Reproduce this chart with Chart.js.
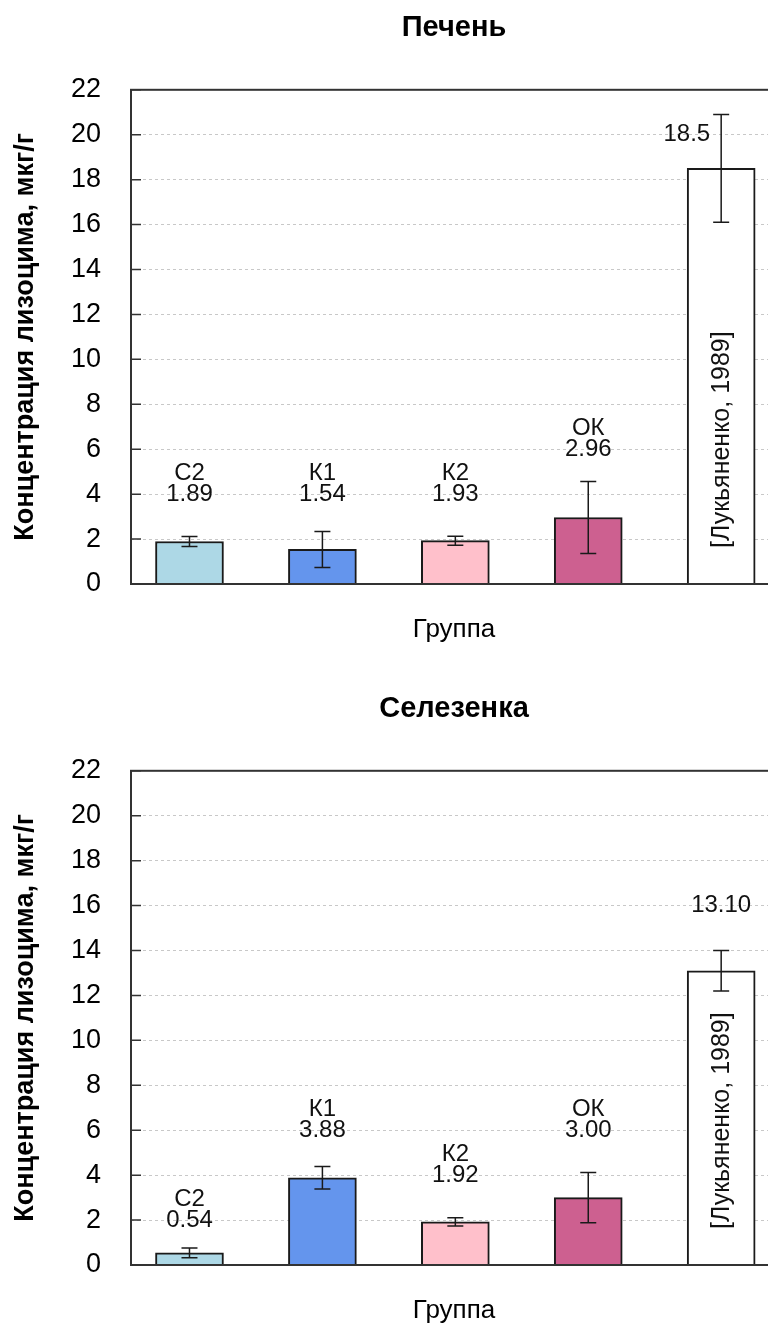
<!DOCTYPE html>
<html lang="ru">
<head>
<meta charset="utf-8">
<title>Лизоцим</title>
<script src="https://cdn.jsdelivr.net/npm/chart.js@4.4.1/dist/chart.umd.min.js"></script>
<style>
html, body { margin: 0; padding: 0; background: #fff; overflow: hidden; }
.box { position: relative; width: 800px; height: 681px; }
</style>
</head>
<body>
<div class="box"><canvas id="pechen"></canvas></div>
<div class="box"><canvas id="selezenka"></canvas></div>
<script>
// группы и цвета
const gruppy = ['С2', 'К1', 'К2', 'ОК', ''];
const cveta = ['#add8e6', '#6495ed', '#ffc0cb', '#cd6090', '#ffffff'];
const istochnik = ['', '', '', '', '[Лукьяненко, 1989]'];

// печень
const pechen = [1.89, 1.54, 1.93, 2.96, 18.5];
const pechenOsh = [0.22, 0.8, 0.2, 1.6, 2.4];
const pechenTxt = ['1.89', '1.54', '1.93', '2.96', '18.5'];

// селезенка
const selezenka = [0.54, 3.88, 1.92, 3.00, 13.10];
const selezenkaOsh = [0.22, 0.5, 0.18, 1.12, 0.9];
const selezenkaTxt = ['0.54', '3.88', '1.92', '3.00', '13.10'];

const yTicks = [0, 2, 4, 6, 8, 10, 12, 14, 16, 18, 20, 22];

const FONT = "'Liberation Sans', Arial, sans-serif";

const dopolnenie = {
    id: 'dopolnenie',
    afterDatasetsDraw(chart, args, opts) {
        const {ctx, chartArea: a, scales: {y}} = chart;
        const meta = chart.getDatasetMeta(0);
        ctx.save();

        // усы ошибок
        ctx.strokeStyle = '#1a1a1a';
        ctx.lineWidth = 1.5;
        meta.data.forEach((bar, i) => {
            const v = opts.znach[i], e = opts.osh[i];
            const t = y.getPixelForValue(v + e), b = y.getPixelForValue(v - e);
            ctx.beginPath();
            ctx.moveTo(bar.x, t); ctx.lineTo(bar.x, b);
            ctx.moveTo(bar.x - 8, t); ctx.lineTo(bar.x + 8, t);
            ctx.moveTo(bar.x - 8, b); ctx.lineTo(bar.x + 8, b);
            ctx.stroke();
        });

        // подписи над столбцами
        ctx.font = '24px ' + FONT;
        ctx.fillStyle = '#111';
        ctx.textBaseline = 'middle';
        meta.data.forEach((bar, i) => {
            const v = opts.znach[i], e = opts.osh[i];
            let lvl = (Math.floor((v + e) / 2) + 1) * 2;
            if (lvl > y.max - 2) {
                lvl = y.max - 2;
                ctx.textAlign = 'right';
                ctx.fillText(opts.txt[i], bar.x - 11, y.getPixelForValue(lvl));
                return;
            }
            const py = y.getPixelForValue(lvl);
            ctx.textAlign = 'center';
            ctx.fillText(opts.txt[i], bar.x, py);
            if (gruppy[i]) ctx.fillText(gruppy[i], bar.x, py - 21);
        });

        // источник внутри столбца
        ctx.font = '25px ' + FONT;
        meta.data.forEach((bar, i) => {
            if (!istochnik[i]) return;
            ctx.save();
            ctx.translate(bar.x + 1, y.getPixelForValue(0) - 36);
            ctx.rotate(-Math.PI / 2);
            ctx.textAlign = 'left';
            ctx.fillText(istochnik[i], 0, 0);
            ctx.restore();
        });

        // рамка и засечки
        ctx.strokeStyle = '#333';
        ctx.lineWidth = 2;
        ctx.strokeRect(a.left, a.top, a.right - a.left, a.bottom - a.top);
        ctx.lineWidth = 1.5;
        ctx.beginPath();
        yTicks.forEach(t => {
            const py = y.getPixelForValue(t);
            ctx.moveTo(a.left, py);
            ctx.lineTo(a.left + 10, py);
        });
        ctx.stroke();
        ctx.restore();
    }
};

function risuem(id, zagolovok, znach, osh, txt) {
    const ctx = document.getElementById(id).getContext('2d');
    return new Chart(ctx, {
        type: 'bar',
        data: {
            datasets: [{
                data: znach.map((v, i) => ({x: i, y: v})),
                backgroundColor: cveta,
                borderColor: '#1a1a1a',
                borderWidth: 2,
                barThickness: 68
            }]
        },
        options: {
            responsive: true,
            maintainAspectRatio: false,
            animation: false,
            layout: { padding: { top: 0, right: 23, bottom: 36, left: 0 } },
            plugins: {
                legend: { display: false },
                tooltip: { enabled: false },
                title: {
                    display: true,
                    text: zagolovok,
                    fullSize: false,
                    color: '#000',
                    font: { family: FONT, size: 29, weight: 'bold' },
                    padding: { top: 11, bottom: 44 }
                },
                dopolnenie: { znach: znach, osh: osh, txt: txt }
            },
            scales: {
                x: {
                    type: 'linear',
                    offset: false,
                    min: -0.44,
                    max: 4.42,
                    ticks: { display: false },
                    grid: { display: false, offset: false },
                    border: { display: false },
                    title: {
                        display: true,
                        text: 'Группа',
                        color: '#000',
                        font: { family: FONT, size: 26 },
                        padding: 0
                    },
                    afterFit: s => { s.height = 61; }
                },
                y: {
                    min: 0,
                    max: 22,
                    afterBuildTicks: s => { s.ticks = yTicks.map(v => ({value: v})); },
                    ticks: {
                        color: '#000',
                        padding: 30,
                        font: { family: FONT, size: 27 }
                    },
                    grid: {
                        drawTicks: false,
                        lineWidth: 1,
                        color: c => (c.tick && (c.tick.value === 0 || c.tick.value === 22)) ? 'rgba(0,0,0,0)' : '#c8c8c8'
                    },
                    border: { display: false, dash: [3, 3] },
                    title: {
                        display: true,
                        text: 'Концентрация лизоцима, мкг/г',
                        color: '#000',
                        font: { family: FONT, size: 27, weight: 'bold' },
                        padding: { top: 9, bottom: 0 }
                    },
                    afterFit: s => { s.width = 131; }
                }
            }
        },
        plugins: [dopolnenie]
    });
}

risuem('pechen', 'Печень', pechen, pechenOsh, pechenTxt);
risuem('selezenka', 'Селезенка', selezenka, selezenkaOsh, selezenkaTxt);
</script>
</body>
</html>
